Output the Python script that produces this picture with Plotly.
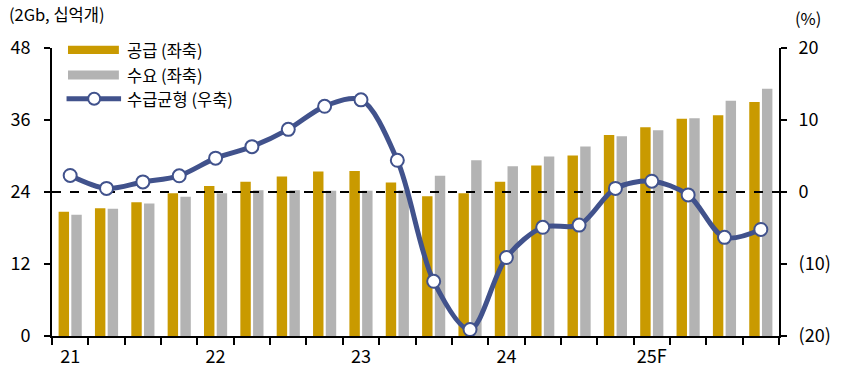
import plotly.graph_objects as go

# Quarterly DRAM bit supply / demand (2Gb equivalent, billion units) and balance (%)
quarters = list(range(20))  # 21Q1 ... 25Q4
year_ticks = [0, 4, 8, 12, 16]
year_labels = ["21", "22", "23", "24", "25F"]

supply = [20.7, 21.3, 22.3, 23.8, 25.0, 25.7, 26.6, 27.4, 27.5, 25.6,
          23.3, 23.8, 25.7, 28.4, 30.1, 33.5, 34.8, 36.2, 36.8, 39.0]
demand = [20.2, 21.2, 22.1, 23.2, 23.8, 24.3, 24.3, 24.2, 24.2, 24.3,
          26.7, 29.3, 28.3, 29.9, 31.6, 33.3, 34.3, 36.3, 39.2, 41.2]
balance = [2.3, 0.5, 1.4, 2.25, 4.7, 6.3, 8.7, 11.9, 12.8, 4.4,
           -12.4, -19.1, -9.1, -4.9, -4.6, 0.5, 1.5, -0.4, -6.3, -5.2]

left_ticks = [0, 12, 24, 36, 48]
right_ticks = [-20, -10, 0, 10, 20]
right_labels = ["(20)", "(10)", "0", "10", "20"]

GOLD = "#C99A00"
GRAY = "#B3B3B3"
NAVY = "#41528C"
FONT = "Noto Sans CJK KR"
TICK_FONT = dict(family=FONT, size=18, color="black")

fig = go.Figure()
fig.add_trace(go.Bar(x=quarters, y=supply, marker=dict(color=GOLD, line=dict(width=0)),
                     name="공급 (좌축)", showlegend=False))
fig.add_trace(go.Bar(x=quarters, y=demand, marker=dict(color=GRAY, line=dict(width=0)),
                     name="수요 (좌축)", showlegend=False))
# zero-balance reference line on the right axis
fig.add_trace(go.Scatter(x=[-0.5, 19.5], y=[0, 0], yaxis="y2", mode="lines",
                         line=dict(color="black", width=2, dash="dash"),
                         showlegend=False, hoverinfo="skip"))
fig.add_trace(go.Scatter(x=quarters, y=balance, yaxis="y2", mode="lines+markers",
                         line=dict(color=NAVY, width=5, shape="spline", smoothing=0.9),
                         marker=dict(size=13, color="white", line=dict(color=NAVY, width=2)),
                         name="수급균형 (우축)", showlegend=False))

fig.update_layout(
    width=844, height=370,
    margin=dict(l=52, r=65, t=48, b=34),
    paper_bgcolor="white", plot_bgcolor="white",
    font=dict(family=FONT, size=16.5, color="black"),
    barmode="group", bargap=0.3, bargroupgap=0.18,
    xaxis=dict(range=[-0.5, 19.5], tickvals=year_ticks, ticktext=year_labels,
               ticks="", showgrid=False, zeroline=False, tickfont=TICK_FONT,
               ticklabelstandoff=3, automargin=False,
               showline=True, linecolor="black", linewidth=2,
               minor=dict(tickvals=[q - 0.5 for q in quarters] + [19.5], ticks="outside",
                          ticklen=7, tickwidth=2, tickcolor="black", showgrid=False)),
    yaxis=dict(range=[0, 48], tickvals=left_ticks, showgrid=False, zeroline=False,
               showline=True, linecolor="black", linewidth=2, tickfont=TICK_FONT,
               ticklabelstandoff=10, automargin=False,
               ticks="outside", ticklen=6, tickwidth=2, tickcolor="black"),
    yaxis2=dict(range=[-20, 20], tickvals=right_ticks, ticktext=right_labels,
                overlaying="y", side="right", showgrid=False, zeroline=False,
                showline=True, linecolor="black", linewidth=2, tickfont=TICK_FONT,
                ticklabelstandoff=8, automargin=False,
                ticks="outside", ticklen=6, tickwidth=2, tickcolor="black"),
)

# unit labels
fig.add_annotation(text="(2Gb, 십억개)", xref="paper", yref="paper", x=-0.062, y=1.118,
                   xanchor="left", yanchor="middle", showarrow=False)
fig.add_annotation(text="(%)", xref="paper", yref="paper", x=1.04, y=1.104,
                   xanchor="center", yanchor="middle", showarrow=False)

# legend
fig.add_shape(type="rect", xref="paper", yref="paper", x0=0.022, x1=0.092, y0=0.979, y1=1.008,
              fillcolor=GOLD, line=dict(width=0))
fig.add_shape(type="rect", xref="paper", yref="paper", x0=0.022, x1=0.092, y0=0.891, y1=0.922,
              fillcolor=GRAY, line=dict(width=0))
fig.add_shape(type="line", xref="paper", yref="paper", x0=0.02, x1=0.095, y0=0.824, y1=0.824,
              line=dict(color=NAVY, width=5))
fig.add_shape(type="circle", xref="paper", yref="paper", xsizemode="pixel", ysizemode="pixel",
              xanchor=0.058, yanchor=0.824, x0=-6, x1=6, y0=-6, y1=6,
              fillcolor="white", line=dict(color=NAVY, width=2))
for label, yy in [("공급 (좌축)", 0.993), ("수요 (좌축)", 0.907), ("수급균형 (우축)", 0.824)]:
    fig.add_annotation(text=label, xref="paper", yref="paper", x=0.1, y=yy,
                       xanchor="left", yanchor="middle", showarrow=False)

fig.write_html("out.html")
